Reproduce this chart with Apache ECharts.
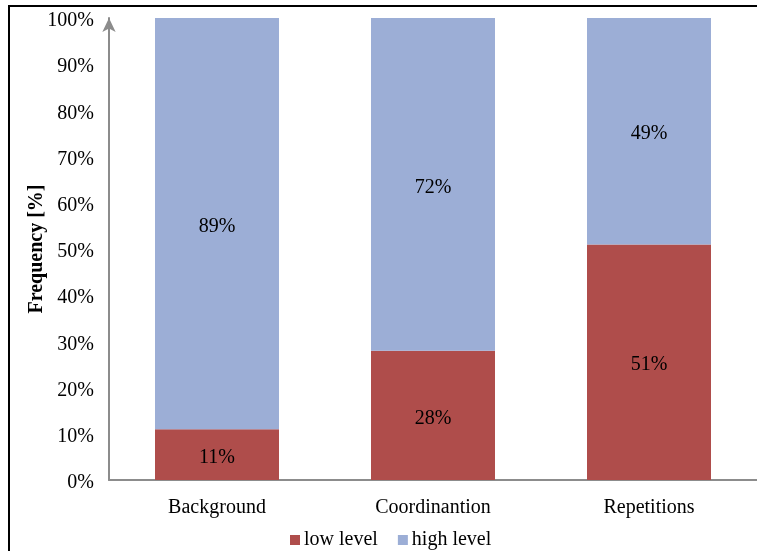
<!DOCTYPE html>
<html>
<head>
<meta charset="utf-8">
<script src="https://cdn.jsdelivr.net/npm/echarts@6/dist/echarts.min.js"></script>
<style>
  html, body { margin: 0; padding: 0; background: #fff; }
  #frame { position: absolute; left: 8px; top: 5px; width: 760px; height: 560px;
           border-left: 2px solid #000; border-top: 2px solid #000; }
  #chart { position: absolute; left: 0; top: 0; width: 757px; height: 551px; }
</style>
</head>
<body>
<div id="frame"></div>
<div id="chart"></div>
<script>
const categories = ['Background', 'Coordinantion', 'Repetitions'];
const lowLevel = [11, 28, 51];
const highLevel = [89, 72, 49];
const yTicks = [0, 10, 20, 30, 40, 50, 60, 70, 80, 90, 100];

const serif = '"Liberation Serif", "Times New Roman", serif';
const chart = echarts.init(document.getElementById('chart'), null, { renderer: 'canvas' });

const segLabel = {
  show: true,
  position: 'inside',
  offset: [0, 3],
  formatter: p => p.value + '%',
  fontFamily: serif,
  fontSize: 20,
  color: '#000'
};

chart.setOption({
  animation: false,
  textStyle: { fontFamily: serif },
  grid: { left: 109, top: 18, width: 651, bottom: 71, containLabel: false },
  legend: {
    top: 525,
    left: 285,
    itemWidth: 10,
    itemHeight: 10,
    itemGap: 20,
    icon: 'rect',
    textStyle: { fontFamily: serif, fontSize: 20, color: '#000', padding: [0, 0, 0, -1] },
    data: ['low level', 'high level']
  },
  xAxis: {
    type: 'category',
    data: categories,
    axisLine: { lineStyle: { color: '#8c8c8c', width: 2 } },
    axisTick: { show: false },
    axisLabel: { fontFamily: serif, fontSize: 20, color: '#000', margin: 18 }
  },
  yAxis: {
    type: 'value',
    min: 0,
    max: 100,
    interval: 10,
    name: 'Frequency [%]',
    nameLocation: 'middle',
    nameGap: 62,
    nameMoveOverlap: false,
    nameTextStyle: { fontFamily: serif, fontSize: 20, fontWeight: 'bold', color: '#000' },
    axisLine: {
      show: true,
      symbol: ['none', 'arrow'],
      symbolSize: [10, 14],
      lineStyle: { color: '#8c8c8c', width: 2 }
    },
    axisTick: { show: false },
    splitLine: { show: false },
    axisLabel: {
      margin: 15,
      formatter: v => (yTicks.includes(v) ? '{t|' + v + '%}' : ''),
      rich: {
        t: { fontFamily: serif, fontSize: 20, color: '#000', padding: [6, 0, 0, 0] }
      }
    }
  },
  series: [
    {
      name: 'low level',
      type: 'bar',
      stack: 'freq',
      barWidth: 124,
      data: lowLevel,
      itemStyle: { color: '#AF4D4B' },
      label: segLabel
    },
    {
      name: 'high level',
      type: 'bar',
      stack: 'freq',
      barWidth: 124,
      data: highLevel,
      itemStyle: { color: '#9CAED6' },
      label: segLabel
    }
  ]
});
</script>
</body>
</html>
